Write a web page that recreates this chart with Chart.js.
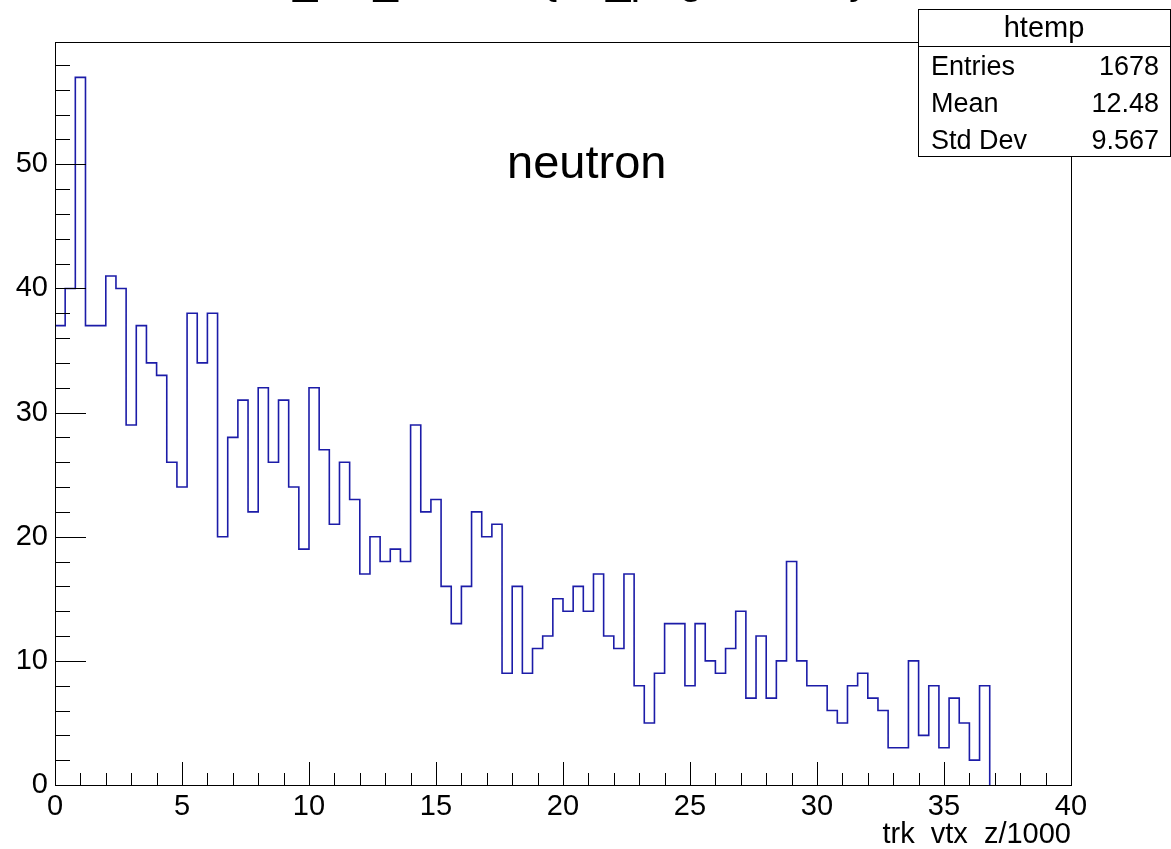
<!DOCTYPE html>
<html>
<head>
<meta charset="utf-8">
<title>htemp</title>
<script src="https://cdn.jsdelivr.net/npm/chart.js@4.4.1/dist/chart.umd.min.js"></script>
<style>
  html, body { margin: 0; padding: 0; background: #fff; }
  #wrap { width: 1171px; height: 849px; }
</style>
</head>
<body>
<div id="wrap"><canvas id="histCanvas" width="1171" height="849"></canvas></div>
<script>
// htemp: 0.4 wide bins starting at x = 0
const binWidth = 0.4;
const binCounts = [
  37, 40, 57, 37, 37, 41, 40, 29, 37, 34,
  33, 26, 24, 38, 34, 38, 20, 28, 31, 22,
  32, 26, 31, 24, 19, 32, 27, 21, 26, 23,
  17, 20, 18, 19, 18, 29, 22, 23, 16, 13,
  16, 22, 20, 21, 9, 16, 9, 11, 12, 15,
  14, 16, 14, 17, 12, 11, 17, 8, 5, 9,
  13, 13, 8, 13, 10, 9, 11, 14, 7, 12,
  7, 10, 18, 10, 8, 8, 6, 5, 8, 9,
  7, 6, 3, 3, 10, 4, 8, 3, 7, 5,
  2, 8
];
const xMin = 0;
const xMax = 40;
const yMax = 59.85;

const histTitle = "trk_vtx_z/1000 {trk_pdg==2112}";
const xAxisTitle = "trk  vtx  z/1000";
const annotation = "neutron";
const statsName = "htemp";
const statsLabels = ["Entries", "Mean", "Std Dev"];
const statsValues = ["1678", "12.48", "9.567"];

const FONT = "'Liberation Sans', Arial, Helvetica, sans-serif";

// step outline: each point holds its value until the next bin edge
const points = [{ x: 0, y: 0 }];
binCounts.forEach(function (c, i) {
  points.push({ x: i * binWidth, y: c });
});
points.push({ x: binCounts.length * binWidth, y: 0 });

// ROOT style frame with inward ticks, title, label and stats box
const rootDecor = {
  id: "rootDecor",
  afterDraw(chart) {
    const ctx = chart.ctx;
    const a = chart.chartArea;
    const xs = chart.scales.x;
    const ys = chart.scales.y;
    ctx.save();
    ctx.strokeStyle = "#000";
    ctx.lineWidth = 1;

    ctx.beginPath();
    for (let v = 0; v <= 58; v += 2) {
      const py = Math.round(ys.getPixelForValue(v)) + 0.5;
      const len = v % 10 === 0 ? 31 : 15;
      ctx.moveTo(a.left, py);
      ctx.lineTo(a.left + len, py);
    }
    for (let v = xMin; v <= xMax; v += 1) {
      const px = Math.round(xs.getPixelForValue(v)) + 0.5;
      const len = v % 5 === 0 ? 23 : 12;
      ctx.moveTo(px, a.bottom);
      ctx.lineTo(px, a.bottom - len);
    }
    ctx.stroke();
    ctx.strokeRect(Math.round(a.left) + 0.5, Math.round(a.top) + 0.5,
      Math.round(a.right - a.left), Math.round(a.bottom - a.top));

    // histogram title, mostly above the top edge of the canvas
    ctx.fillStyle = "#000";
    ctx.font = "44px " + FONT;
    ctx.textAlign = "left";
    ctx.textBaseline = "alphabetic";
    ctx.fillText(histTitle, 244, -7);

    ctx.font = "47px " + FONT;
    ctx.fillText(annotation, 507, 178);

    // stats box
    const bx = 918, by = 9, bw = 252, bh = 147;
    ctx.fillStyle = "#fff";
    ctx.fillRect(bx, by, bw, bh);
    ctx.strokeRect(bx + 0.5, by + 0.5, bw, bh);
    ctx.beginPath();
    ctx.moveTo(bx, 46.5);
    ctx.lineTo(bx + bw, 46.5);
    ctx.stroke();
    ctx.fillStyle = "#000";
    ctx.font = "29px " + FONT;
    ctx.textAlign = "center";
    ctx.fillText(statsName, bx + bw / 2, 37);
    ctx.font = "27px " + FONT;
    statsLabels.forEach(function (lab, i) {
      const yy = 75 + i * 37;
      ctx.textAlign = "left";
      ctx.fillText(lab, 931, yy);
      ctx.textAlign = "right";
      ctx.fillText(statsValues[i], 1159, yy);
    });
    ctx.restore();
  }
};

const ctx = document.getElementById("histCanvas");
new Chart(ctx, {
  type: "line",
  data: {
    datasets: [
      {
        label: statsName,
        data: points,
        stepped: "before",
        borderColor: "#1c1ca8",
        borderWidth: 1.6,
        pointRadius: 0,
        fill: false,
        tension: 0,
      },
    ],
  },
  options: {
    responsive: false,
    animation: false,
    events: [],
    layout: { padding: { top: 42, right: 100, bottom: 0, left: 0 } },
    scales: {
      x: {
        type: "linear",
        min: xMin,
        max: xMax,
        grid: { display: false, drawTicks: false },
        border: { display: false },
        ticks: {
          stepSize: 5,
          padding: 5,
          maxRotation: 0,
          autoSkip: false,
          color: "#000",
          font: { family: FONT, size: 29 },
        },
        title: {
          display: true,
          text: xAxisTitle,
          align: "end",
          color: "#000",
          padding: 0,
          font: { family: FONT, size: 29, lineHeight: 1 },
        },
        afterFit: function (scale) {
          scale.height = 64;
        },
      },
      y: {
        type: "linear",
        min: 0,
        max: yMax,
        grid: { display: false, drawTicks: false },
        border: { display: false },
        ticks: {
          stepSize: 10,
          padding: 7,
          includeBounds: false,
          color: "#000",
          font: { family: FONT, size: 29 },
        },
        afterFit: function (scale) {
          scale.width = 55;
        },
      },
    },
    plugins: {
      legend: { display: false },
      tooltip: { enabled: false },
      title: { display: false },
    },
  },
  plugins: [rootDecor],
});
</script>
</body>
</html>
